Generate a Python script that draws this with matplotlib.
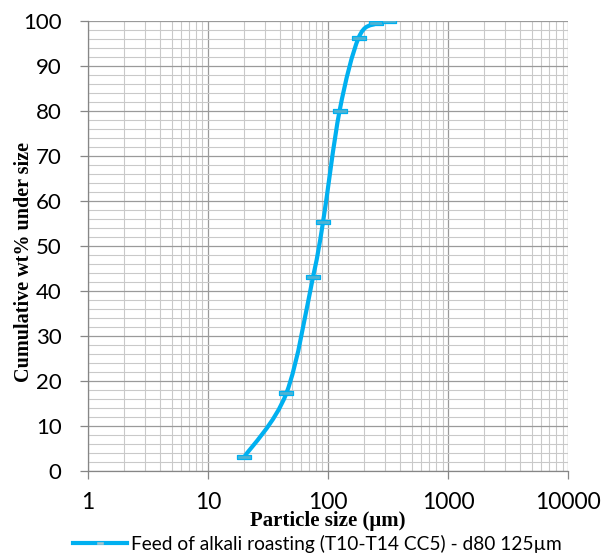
import numpy as np
import matplotlib
matplotlib.use("Agg")
from matplotlib import pyplot as plt
from matplotlib.path import Path
from matplotlib.patches import PathPatch
from matplotlib.lines import Line2D
from matplotlib.ticker import FixedLocator, LogLocator, NullFormatter

# data
size_um = [20, 45, 75, 91, 125, 180, 252, 322]
cum_pct = [3.0, 17.2, 43.0, 55.3, 80.0, 96.2, 99.4, 100.0]
x_ticks = [1, 10, 100, 1000, 10000]
x_ticklabels = ["1", "10", "100", "1000", "10000"]
y_ticks = list(range(0, 101, 10))
legend_label = "Feed of alkali roasting (T10-T14 CC5) - d80 125\u00b5m"

line_color = "#00B0F0"
grid_major = "#9a9a9a"
grid_minor = "#c9c9c9"
label_font = ["Lato", "DejaVu Sans"]
title_font = ["Liberation Serif", "DejaVu Serif"]

fig = plt.figure(figsize=(6.03, 5.53), dpi=100)
ax = fig.add_axes([0.1458, 0.1488, 0.942 - 0.1458, 0.9626 - 0.1488])
ax.set_xscale("log")
ax.set_xlim(1, 10000)
ax.set_ylim(0, 100)

# grid
ax.xaxis.set_minor_locator(LogLocator(base=10, subs=np.arange(2, 10)))
ax.xaxis.set_minor_formatter(NullFormatter())
ax.yaxis.set_minor_locator(FixedLocator(range(0, 101, 2)))
ax.grid(which="minor", color=grid_minor, linewidth=0.8)
ax.grid(which="major", color=grid_major, linewidth=0.9)
ax.set_axisbelow(True)

for s in ["top", "right"]:
    ax.spines[s].set_visible(False)
for s in ["left", "bottom"]:
    ax.spines[s].set_color("#868686")
    ax.spines[s].set_linewidth(0.9)

ax.set_xticks(x_ticks)
ax.set_xticklabels(x_ticklabels, family=label_font, fontsize=16.5)
ax.set_yticks(y_ticks)
ax.set_yticklabels([str(v) for v in y_ticks], family=label_font, fontsize=16)
ax.tick_params(which="major", length=6, color="#868686", width=0.9)
ax.tick_params(axis="x", pad=9)
ax.tick_params(axis="y", pad=13)
ax.tick_params(which="minor", length=0)

# smooth curve (Catmull-Rom in log-x space, drawn as bezier path)
lx = np.log10(size_um)
yy = np.array(cum_pct)
px = np.concatenate([[lx[0]], lx, [lx[-1]]])
py = np.concatenate([[yy[0]], yy, [yy[-1]]])
verts = [(10 ** lx[0], yy[0])]
codes = [Path.MOVETO]
t = 1 / 6.0
for i in range(1, len(px) - 2):
    c1 = (px[i] + (px[i + 1] - px[i - 1]) * t, py[i] + (py[i + 1] - py[i - 1]) * t)
    c2 = (px[i + 1] - (px[i + 2] - px[i]) * t, py[i + 1] - (py[i + 2] - py[i]) * t)
    verts += [(10 ** c1[0], c1[1]), (10 ** c2[0], c2[1]), (10 ** px[i + 1], py[i + 1])]
    codes += [Path.CURVE4] * 3
ax.add_patch(PathPatch(Path(verts, codes), facecolor="none", edgecolor=line_color,
                       linewidth=3, capstyle="round", joinstyle="round"))

rect = [(-1, -0.22), (1, -0.22), (1, 0.22), (-1, 0.22), (-1, -0.22)]
ax.plot(size_um, cum_pct, linestyle="none", marker=rect, markersize=10,
        markerfacecolor="#4FB3D3", markeredgecolor=line_color, markeredgewidth=0.9)

ax.set_xlabel("Particle size (\u03bcm)", family=title_font, fontweight="bold",
              fontsize=15, va="center")
ax.xaxis.set_label_coords(0.5, -0.112)
ax.set_ylabel("Cumulative wt% under size", family=title_font, fontweight="bold",
              fontsize=14.5, va="center")
ax.yaxis.set_label_coords(-0.133, 0.4638)

handle = Line2D([], [], color=line_color, linewidth=3, marker=rect, markersize=5,
                markerfacecolor="#a9c4cc", markeredgecolor="#a9c4cc", markeredgewidth=0.4)
fig.legend([handle], [legend_label], loc="center", bbox_to_anchor=(0.5265, 0.0163),
           frameon=False, prop={"family": label_font, "size": 13.8},
           handlelength=2.8, handletextpad=0.25, borderpad=0)

plt.savefig("out.png", dpi=100)
